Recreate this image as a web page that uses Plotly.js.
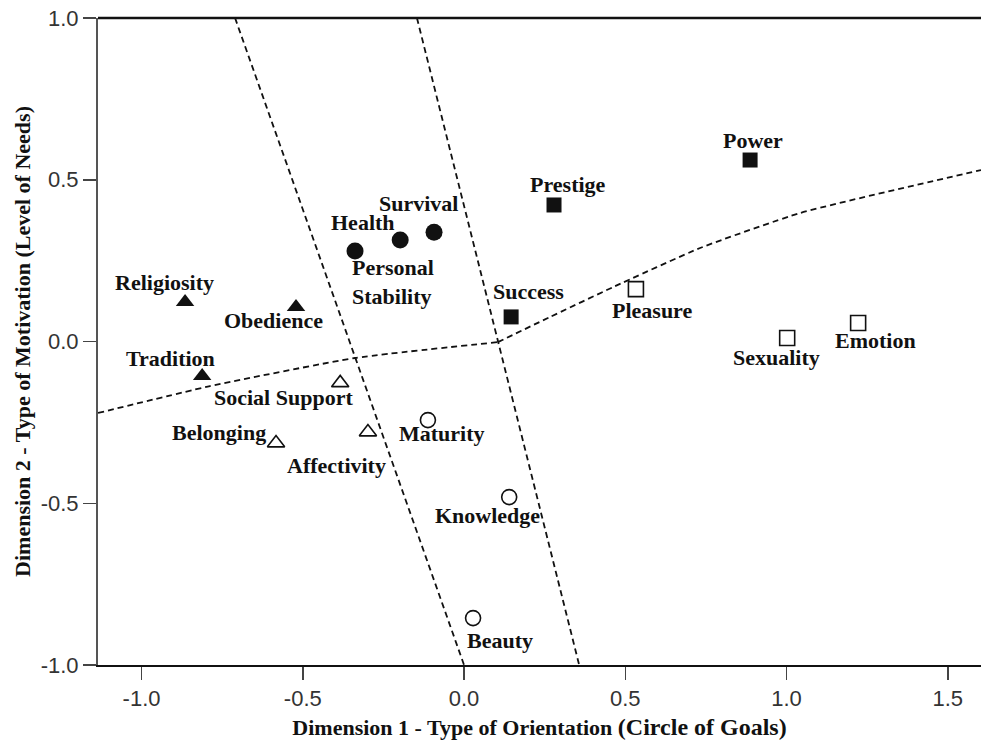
<!DOCTYPE html>
<html>
<head>
<meta charset="utf-8">
<script src="https://cdn.plot.ly/plotly-3.0.1.min.js"></script>
<style>html,body{margin:0;padding:0;background:#fff;}#chart{width:981px;height:747px;}</style>
</head>
<body>
<div id="chart"></div>
<script>
// ---- Data ----
const filledSquareNames = ["Power", "Prestige", "Success"];
const filledSquareX = [0.887, 0.279, 0.146];
const filledSquareY = [0.561, 0.422, 0.076];

const filledCircleNames = ["Survival", "Personal<br>Stability", "Health"];
const filledCircleX = [-0.093, -0.198, -0.338];
const filledCircleY = [0.338, 0.314, 0.280];

const filledTriangleNames = ["Religiosity", "Obedience", "Tradition"];
const filledTriangleX = [-0.865, -0.521, -0.812];
const filledTriangleY = [0.122, 0.107, -0.107];

const openTriangleNames = ["Social Support", "Belonging", "Affectivity"];
const openTriangleX = [-0.384, -0.583, -0.298];
const openTriangleY = [-0.128, -0.314, -0.280];

const openCircleNames = ["Maturity", "Knowledge", "Beauty"];
const openCircleX = [-0.112, 0.140, 0.028];
const openCircleY = [-0.243, -0.481, -0.855];

const openSquareNames = ["Pleasure", "Sexuality", "Emotion"];
const openSquareX = [0.533, 1.002, 1.222];
const openSquareY = [0.162, 0.011, 0.057];

// Dashed region boundaries
const boundaryLeftX = [-0.710, 0.0];
const boundaryLeftY = [1.0, -1.0];
const boundaryRightX = [-0.146, 0.357];
const boundaryRightY = [1.0, -1.0];
const boundaryCurveX = [-1.135, -0.788, -0.338, 0.105];
const boundaryCurveY = [-0.221, -0.138, -0.051, -0.002];
const boundaryCurve2X = [0.105, 0.267, 0.462, 0.732, 1.042, 1.603];
const boundaryCurve2Y = [-0.002, 0.076, 0.168, 0.289, 0.397, 0.530];

const xTicks = [-1.0, -0.5, 0.0, 0.5, 1.0, 1.5];
const yTicks = [-1.0, -0.5, 0.0, 0.5, 1.0];

// ---- Styling (label offsets in pixels) ----
const labelShift = {
  "Power": [3, 20], "Prestige": [14, 20], "Success": [17, 25],
  "Survival": [-16, 29], "Personal<br>Stability": [-7, -42], "Health": [8, 28],
  "Religiosity": [-21, 20], "Obedience": [-23, -14], "Tradition": [-32, 18],
  "Social Support": [-57, -15], "Belonging": [-57, 11], "Affectivity": [-31, -33],
  "Maturity": [14, -13], "Knowledge": [-22, -18], "Beauty": [27, -22],
  "Pleasure": [16, -21], "Sexuality": [-11, -20], "Emotion": [17, -17]
};

const INK = "#111";
const dash = {color: INK, width: 1.8, dash: "6px,4px"};

function lineTrace(x, y) {
  return {x: x, y: y, type: "scatter", mode: "lines", line: dash, hoverinfo: "skip", showlegend: false};
}
function markerTrace(x, y, names, symbol, size, filled) {
  return {
    x: x, y: y, text: names, type: "scatter", mode: "markers", showlegend: false,
    marker: {symbol: symbol, size: size, color: filled ? INK : "rgba(255,255,255,0)",
             line: {color: INK, width: filled ? 0 : 1.6}}
  };
}

const curveLine = Object.assign({}, dash, {shape: "spline", smoothing: 0.5});
const traces = [
  lineTrace(boundaryLeftX, boundaryLeftY),
  lineTrace(boundaryRightX, boundaryRightY),
  Object.assign(lineTrace(boundaryCurveX, boundaryCurveY), {line: curveLine}),
  Object.assign(lineTrace(boundaryCurve2X, boundaryCurve2Y), {line: curveLine}),
  markerTrace(filledSquareX, filledSquareY, filledSquareNames, "square", 15, true),
  markerTrace(filledCircleX, filledCircleY, filledCircleNames, "circle", 17, true),
  markerTrace(filledTriangleX, filledTriangleY, filledTriangleNames, "triangle-up", 16, true),
  markerTrace(openTriangleX, openTriangleY, openTriangleNames, "triangle-up", 15, false),
  markerTrace(openCircleX, openCircleY, openCircleNames, "circle", 15, false),
  markerTrace(openSquareX, openSquareY, openSquareNames, "square", 15, false)
];

const annotations = [];
[[filledSquareNames, filledSquareX, filledSquareY],
 [filledCircleNames, filledCircleX, filledCircleY],
 [filledTriangleNames, filledTriangleX, filledTriangleY],
 [openTriangleNames, openTriangleX, openTriangleY],
 [openCircleNames, openCircleX, openCircleY],
 [openSquareNames, openSquareX, openSquareY]].forEach(function (g) {
  g[0].forEach(function (name, i) {
    const s = labelShift[name] || [0, 0];
    annotations.push({
      x: g[1][i], y: g[2][i], xref: "x", yref: "y", text: name, showarrow: false,
      xshift: s[0], yshift: s[1], align: "left",
      font: {family: "Liberation Serif, Times New Roman, serif", size: 22, color: INK, weight: "bold"}
    });
  });
});

const tickFont = {family: "Liberation Sans, Arial, sans-serif", size: 22, color: "#333"};
const titleFont = {family: "Liberation Serif, Times New Roman, serif", size: 22, color: INK, weight: "bold"};

const layout = {
  width: 981, height: 747,
  margin: {l: 98, r: 0, t: 18, b: 82},
  paper_bgcolor: "#fff", plot_bgcolor: "#fff",
  showlegend: false,
  xaxis: {
    range: [-1.135, 1.603], tickvals: xTicks, ticktext: xTicks.map(v => v.toFixed(1)),
    ticks: "outside", ticklen: 13, tickwidth: 1.5, tickcolor: "#444",
    showline: true, linecolor: INK, linewidth: 1.6, showgrid: false, zeroline: false,
    tickfont: tickFont, automargin: false,
    title: {text: 'Dimension 1 - Type of Orientation <span style="font-size:24px">(Circle of Goals)</span>', font: titleFont, standoff: 9}
  },
  yaxis: {
    range: [-1, 1], tickvals: yTicks, ticktext: yTicks.map(v => v.toFixed(1)),
    ticks: "outside", ticklen: 13, tickwidth: 1.5, tickcolor: "#444",
    showline: true, linecolor: "#555", linewidth: 2, showgrid: false, zeroline: false,
    tickfont: tickFont, automargin: false,
    title: {text: "Dimension 2 - Type of Motivation (Level of Needs)", font: titleFont, standoff: 4}
  },
  shapes: [
    {type: "line", xref: "paper", yref: "paper", x0: 0, x1: 1, y0: 1, y1: 1, line: {color: INK, width: 2.5}}
  ],
  annotations: annotations
};

Plotly.newPlot("chart", traces, layout, {displayModeBar: false, staticPlot: true});
</script>
</body>
</html>
